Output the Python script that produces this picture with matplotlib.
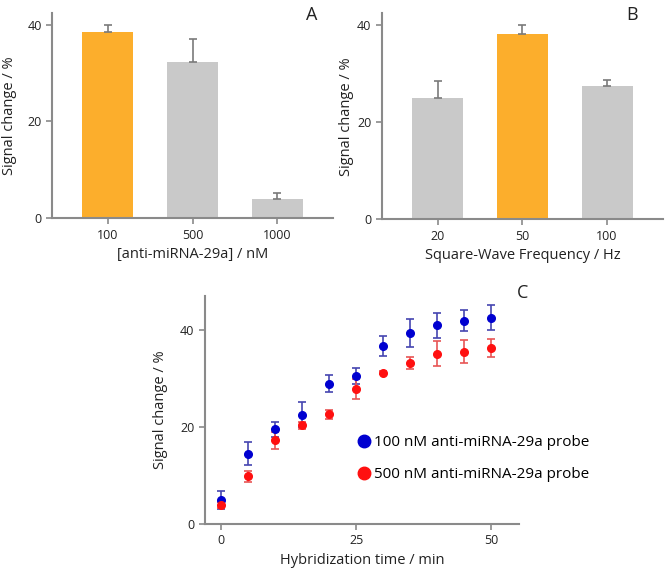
import matplotlib
matplotlib.use("Agg")
import matplotlib.pyplot as plt
from matplotlib.lines import Line2D
import numpy as np

plt.rcParams['font.family'] = ['Open Sans', 'DejaVu Sans']

# Panel A data
conc_labels = ["100", "500", "1000"]
conc_values = [38.4, 32.2, 3.9]
conc_errors = [1.6, 4.8, 1.2]

# Panel B data
freq_labels = ["20", "50", "100"]
freq_values = [25.0, 38.2, 27.4]
freq_errors = [3.5, 1.7, 1.2]

# Panel C data
time_min = [0, 5, 10, 15, 20, 25, 30, 35, 40, 45, 50]
probe100 = [4.9, 14.5, 19.5, 22.5, 28.9, 30.5, 36.7, 39.3, 40.9, 41.9, 42.5]
probe100_err = [1.9, 2.3, 1.5, 2.6, 1.8, 1.7, 2.1, 2.9, 2.5, 2.1, 2.5]
probe500 = [3.9, 9.8, 17.2, 20.3, 22.6, 27.8, 31.2, 33.1, 35.1, 35.5, 36.2]
probe500_err = [0.7, 1.1, 1.8, 0.8, 0.9, 2.1, 0.3, 1.2, 2.6, 2.3, 1.9]
legend_labels = ["100 nM anti-miRNA-29a probe", "500 nM anti-miRNA-29a probe"]

ORANGE = "#FCAE2C"
GRAY = "#C9C9C9"
SPINE = "#8A8A8A"
TXT = "#222222"

fig = plt.figure(figsize=(6.65, 5.71), dpi=100)

def style(ax):
    for s in ["top", "right"]:
        ax.spines[s].set_visible(False)
    for s in ["left", "bottom"]:
        ax.spines[s].set_color(SPINE)
        ax.spines[s].set_linewidth(1.5)
    ax.tick_params(axis="both", colors=SPINE, width=1.2, length=4, labelsize=9, labelcolor=TXT, direction="out")

def bar_panel(rect, labels, values, errors, highlight, xlabel, letter, letter_pos, ylab_x):
    ax = fig.add_axes(rect)
    x = np.arange(len(labels))
    colors = [ORANGE if i == highlight else GRAY for i in range(len(labels))]
    ax.bar(x, values, width=0.6, color=colors)
    ax.errorbar(x, values, yerr=[np.zeros(len(values)), errors], fmt="none",
                ecolor="#7A7A7A", elinewidth=1.2, capsize=3, capthick=1.2)
    ax.set_xlim(-0.66, 2.66)
    ax.set_ylim(0, 42.4)
    ax.set_yticks([0, 20, 40])
    ax.set_xticks(x)
    ax.set_xticklabels(labels)
    style(ax)
    ax.set_xlabel(xlabel, fontsize=10.5, color=TXT, labelpad=4)
    ax.set_ylabel("Signal change / %", fontsize=10.5, color=TXT)
    ax.yaxis.set_label_coords(ylab_x, 0.5)
    fig.text(letter_pos[0], letter_pos[1], letter, fontsize=13, color=TXT, ha="center", va="center")
    return ax

bar_panel([0.0782, 0.618, 0.4226, 0.359], conc_labels, conc_values, conc_errors, 0,
          "[anti-miRNA-29a] / nM", "A", (312/665, 1 - 15/571), -0.125)
bar_panel([0.574, 0.616, 0.423, 0.361], freq_labels, freq_values, freq_errors, 1,
          "Square-Wave Frequency / Hz", "B", (632/665, 1 - 15/571), -0.10)

axc = fig.add_axes([0.308, 0.0823, 0.472, 0.3997])
axc.errorbar(time_min, probe100, yerr=probe100_err, fmt="o", color="#0000D0",
             ecolor="#4545B0", elinewidth=1.2, capsize=3, capthick=1.2, markersize=5.5,
             label=legend_labels[0])
axc.errorbar(time_min, probe500, yerr=probe500_err, fmt="o", color="#FF1010",
             ecolor="#E85555", elinewidth=1.2, capsize=3, capthick=1.2, markersize=5.5,
             label=legend_labels[1])
axc.set_xlim(-3, 55.1)
axc.set_ylim(0, 47)
axc.set_xticks([0, 25, 50])
axc.set_yticks([0, 20, 40])
style(axc)
axc.set_xlabel("Hybridization time / min", fontsize=10.5, color=TXT, labelpad=4)
axc.set_ylabel("Signal change / %", fontsize=10.5, color=TXT)
axc.yaxis.set_label_coords(-0.118, 0.5)
handles = [Line2D([], [], marker="o", linestyle="none", color="#0000D0", markersize=9),
           Line2D([], [], marker="o", linestyle="none", color="#FF1010", markersize=9)]
axc.legend(handles, legend_labels, loc="upper left", bbox_to_anchor=(0.458, 0.415),
           frameon=False, fontsize=11, handletextpad=0.05, labelspacing=1.1,
           borderaxespad=0, handlelength=1.2)
fig.text(523/665, 1 - 293/571, "C", fontsize=13, color=TXT, ha="center", va="center")

fig.savefig("out.png", dpi=100)
